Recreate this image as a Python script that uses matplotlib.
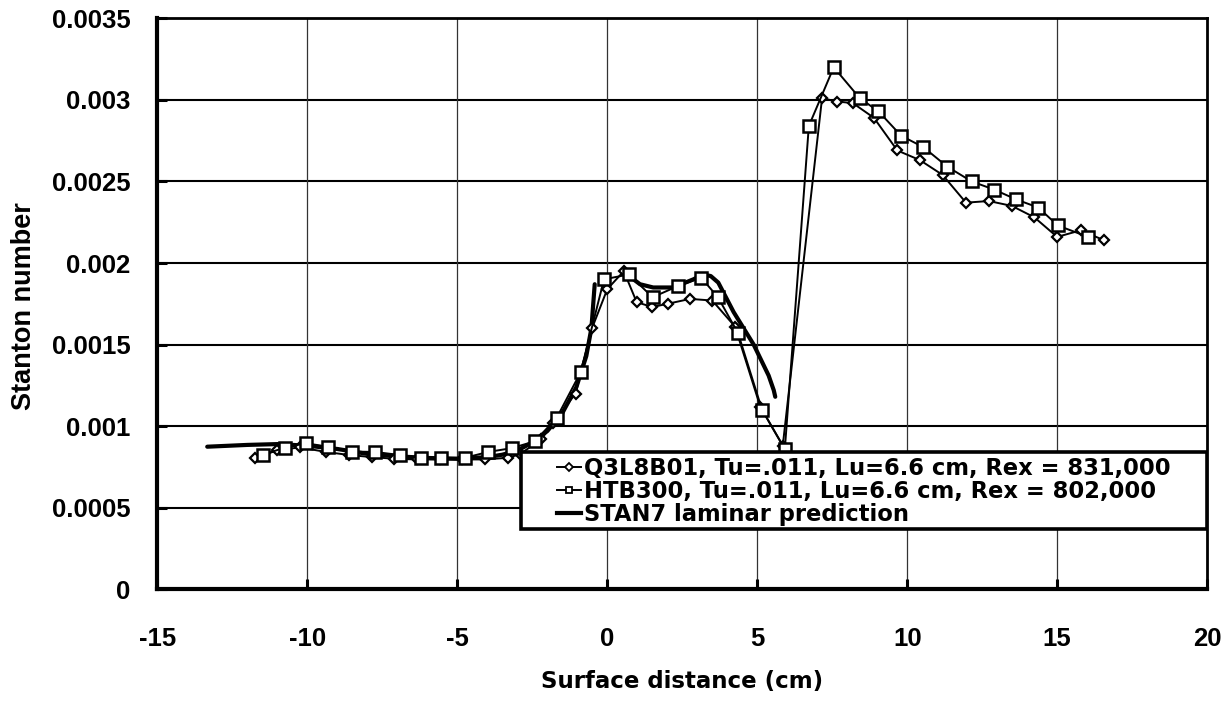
import matplotlib
matplotlib.use("Agg")
import matplotlib.pyplot as plt
import numpy as np
from matplotlib import font_manager
from matplotlib.lines import Line2D
from matplotlib.patches import Rectangle

# Q3L8B01 measurements
q3_x = [-11.75, -11.0, -10.25, -9.39, -8.6, -7.83, -7.1, -6.35, -5.57, -4.85,
        -4.08, -3.32, -2.92, -2.2, -1.8, -1.06, -0.51, 0.0, 0.55, 0.98,
        1.5, 2.01, 2.76, 3.5, 4.26, 5.1, 5.85, 7.16, 7.67, 8.19,
        8.89, 9.67, 10.43, 11.18, 11.96, 12.72, 13.49, 14.24, 15.0, 15.78, 16.56]
q3_st = [0.000805, 0.000852, 0.00087, 0.000842, 0.000823, 0.00081, 0.0008, 0.000796, 0.000796, 0.000796,
         0.000796, 0.000806, 0.000827, 0.00092, 0.00102, 0.0012, 0.0016, 0.00184, 0.00195, 0.00176,
         0.00173, 0.00175, 0.00178, 0.00177, 0.00161, 0.00112, 0.00088, 0.00301, 0.00299, 0.00298,
         0.00289, 0.00269, 0.00263, 0.00254, 0.00237, 0.00238, 0.00235, 0.00228, 0.00216, 0.0022, 0.00214]

# HTB300 measurements
htb_x = [-11.47, -10.75, -10.05, -9.31, -8.51, -7.75, -6.92, -6.22, -5.53, -4.75,
         -3.97, -3.19, -2.42, -1.69, -0.89, -0.11, 0.72, 1.51, 2.37, 3.13,
         3.69, 4.36, 5.16, 5.92, 6.72, 7.55, 8.42, 9.04, 9.8, 10.54,
         11.34, 12.15, 12.9, 13.63, 14.37, 15.02, 16.03]
htb_st = [0.000825, 0.000869, 0.000895, 0.000874, 0.000844, 0.000842, 0.000823, 0.000806, 0.000806, 0.000806,
          0.000842, 0.000865, 0.000907, 0.00105, 0.00133, 0.0019, 0.00193, 0.00179, 0.00186, 0.00191,
          0.00179, 0.00157, 0.0011, 0.00086, 0.00284, 0.0032, 0.00301, 0.00293, 0.00278, 0.00271,
          0.00259, 0.0025, 0.00245, 0.00239, 0.00234, 0.00223, 0.00216]

# STAN7 laminar prediction, pressure side / stagnation region
stan_lower_x = [-13.34, -12.0, -11.0, -10.0, -9.0, -8.0, -7.0, -6.0, -5.0, -4.0,
                -3.5, -3.0, -2.5, -2.0, -1.5, -1.03, -0.7, -0.53, -0.42]
stan_lower = [0.000874, 0.000885, 0.00089, 0.00088, 0.00086, 0.00083, 0.000815, 0.000805, 0.0008, 0.00081,
              0.000825, 0.00085, 0.0009, 0.00097, 0.00108, 0.00124, 0.00143, 0.0016, 0.00187]
# STAN7 laminar prediction, suction side
stan_upper_x = [0.55, 0.8, 1.09, 1.53, 2.2, 2.87, 3.2, 3.45, 3.7, 4.21, 4.88, 5.38, 5.55, 5.6]
stan_upper = [0.00195, 0.00191, 0.00187, 0.00185, 0.00185, 0.0019, 0.00193, 0.00192, 0.00188, 0.0017,
              0.0015, 0.00131, 0.00122, 0.00118]

x_ticks = [-15, -10, -5, 0, 5, 10, 15, 20]
y_ticks = [0, 0.0005, 0.001, 0.0015, 0.002, 0.0025, 0.003, 0.0035]
y_tick_labels = ["0", "0.0005", "0.001", "0.0015", "0.002", "0.0025", "0.003", "0.0035"]

legend_labels = ["Q3L8B01, Tu=.011, Lu=6.6 cm, Rex = 831,000",
                 "HTB300, Tu=.011, Lu=6.6 cm, Rex = 802,000",
                 "STAN7 laminar prediction"]


def has_font(name):
    try:
        font_manager.findfont(font_manager.FontProperties(family=name, weight="bold"),
                              fallback_to_default=False)
        return True
    except Exception:
        return False


if has_font("Liberation Sans Narrow"):
    tick_font = {"family": "Liberation Sans Narrow", "weight": "bold", "size": 21}
else:
    tick_font = {"family": "Liberation Sans", "weight": "bold", "size": 18.5}
xlabel_font = {"family": "DejaVu Sans", "weight": "bold", "size": 16.5}
ylabel_font = {"family": "Liberation Sans", "weight": "bold", "size": 19.5}
legend_font = {"family": "DejaVu Sans", "weight": "bold", "size": 16.3}

fig = plt.figure(figsize=(12.32, 7.07), dpi=100)
ax = fig.add_axes([0.1278, 0.1665, 0.852, 0.8076])

# grid
for yv in y_ticks[1:-1]:
    ax.axhline(yv, color="black", lw=1.5, zorder=1)
for xv in x_ticks[1:-1]:
    ax.axvline(xv, color="#333333", lw=0.9, zorder=1)

# laminar prediction drawn as one line with a break between branches
stan_x = stan_lower_x + [np.nan] + stan_upper_x
stan_y = stan_lower + [np.nan] + stan_upper
ax.plot(stan_x, stan_y, color="black", lw=3.0, solid_capstyle="round", zorder=2)

ax.plot(q3_x, q3_st, color="black", lw=1.4, marker="D", markersize=5.5,
        markerfacecolor="white", markeredgecolor="black", markeredgewidth=1.6, zorder=3)
ax.plot(htb_x, htb_st, color="black", lw=1.4, marker="s", markersize=8,
        markerfacecolor="white", markeredgecolor="black", markeredgewidth=1.8, zorder=4)

ax.set_xlim(-15, 20)
ax.set_ylim(0, 0.0035)
ax.set_xticks(x_ticks)
ax.set_xticklabels([str(v) for v in x_ticks], fontdict=tick_font)
ax.set_yticks(y_ticks)
ax.set_yticklabels(y_tick_labels, fontdict=tick_font)
ax.tick_params(axis="both", direction="in", length=7, width=2.2, color="black")
ax.tick_params(axis="x", pad=27)
ax.tick_params(axis="y", pad=19.5)

for side in ["left", "bottom"]:
    ax.spines[side].set_linewidth(3.0)
for side in ["top", "right"]:
    ax.spines[side].set_linewidth(2.0)

ax.set_xlabel("Surface distance (cm)", fontdict=xlabel_font)
ax.set_ylabel("Stanton number", fontdict=ylabel_font)
ax.xaxis.set_label_coords(0.5, -0.142)
ax.yaxis.set_label_coords(-0.1145, 0.496)

# legend box
box = Rectangle((0.346, 0.106), 0.654, 0.135, transform=ax.transAxes,
                facecolor="white", edgecolor="black", lw=2.6, zorder=6)
ax.add_patch(box)
handles = [
    Line2D([], [], color="black", lw=1.4, marker="D", markersize=4,
           markerfacecolor="white", markeredgewidth=1.3),
    Line2D([], [], color="black", lw=1.4, marker="s", markersize=5,
           markerfacecolor="white", markeredgewidth=1.3),
    Line2D([], [], color="black", lw=3.0),
]
leg = ax.legend(handles, legend_labels, loc="center left",
                bbox_to_anchor=(0.3807, 0.1713), frameon=False, prop=legend_font,
                handlelength=1.05, handletextpad=0.12, labelspacing=0.0,
                borderpad=0.0, borderaxespad=0.0)
leg.set_zorder(7)

fig.savefig("out.png", dpi=100)
